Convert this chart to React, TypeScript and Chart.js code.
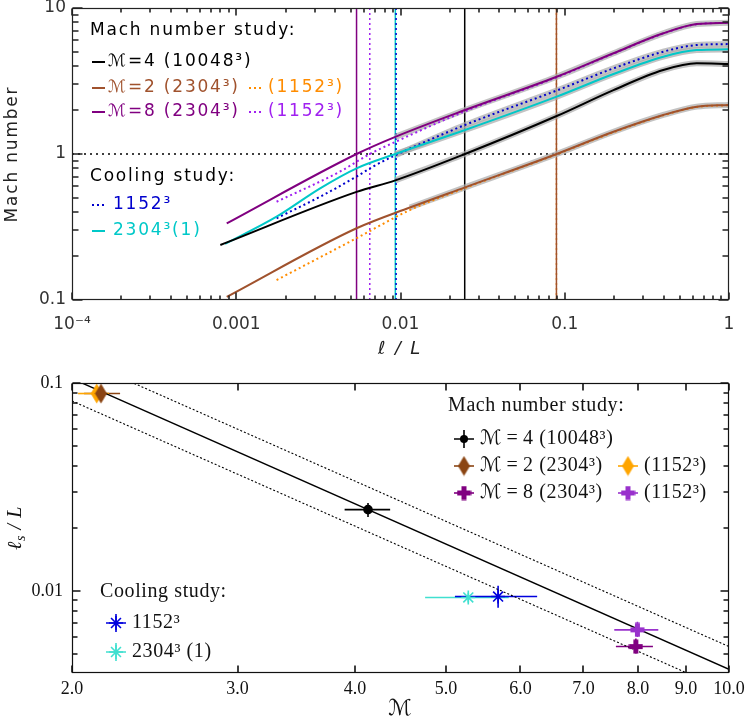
import { useEffect, useRef } from 'react';
import { Chart, registerables } from 'chart.js';

Chart.register(...registerables);

// ---- runs (same order everywhere) ----
// 0: M=4 10048^3, 1: M=2 2304^3, 2: M=2 1152^3, 3: M=8 2304^3, 4: M=8 1152^3, 5: cooling 1152^3, 6: cooling 2304^3 (1)
const topColors = ['#000000', '#a0522d', '#ff8c00', '#800080', '#a020f0', '#0000cd', '#00c8c8'];
const botColors = ['#000000', '#8b4513', '#ffa500', '#800080', '#9932cc', '#0000dd', '#40e0d0'];
const topDotted = [false, false, true, false, true, true, false];

// sonic scale and rms Mach number of each run
const sonicScale = [0.0246, 0.089, 0.089, 0.0054, 0.0065, 0.0094, 0.0093];
const sonicLo = [0.0227, 0.089, 0.089, 0.005, 0.006, 0.0083, 0.0088];
const sonicHi = [0.0265, 0.089, 0.089, 0.0059, 0.0071, 0.0106, 0.0098];
const machRms = [4.13, 2.147, 2.125, 7.96, 7.99, 5.68, 5.28];
const machLo = [3.9, 2.06, 2.03, 7.58, 7.55, 5.11, 4.75];
const machHi = [4.36, 2.25, 2.19, 8.3, 8.41, 6.25, 5.83];

// ---- top panel: Mach number vs l/L ----
const ellM4 = [0.0008, 0.0054, 0.0093, 0.0247, 0.0893, 0.198, 0.398, 0.636, 1.0];
const machM4 = [0.238, 0.55, 0.66, 1.0, 1.82, 2.74, 3.76, 4.18, 4.13];
const ellM2 = [0.000875, 0.0054, 0.0114, 0.0247, 0.0893, 0.198, 0.398, 0.636, 1.0];
const machM2 = [0.105, 0.31, 0.43, 0.591, 1.0, 1.42, 1.85, 2.11, 2.17];
const ellM2lo = [0.00176, 0.0054, 0.0114, 0.0247, 0.0893, 0.198, 0.398, 0.636, 1.0];
const machM2lo = [0.137, 0.265, 0.413, 0.585, 0.995, 1.41, 1.84, 2.1, 2.16];
const ellM8 = [0.000875, 0.0054, 0.0093, 0.0247, 0.0893, 0.198, 0.398, 0.636, 1.0];
const machM8 = [0.335, 1.0, 1.31, 2.0, 3.38, 4.9, 6.71, 7.76, 7.93];
const ellM8lo = [0.00176, 0.0043, 0.0065, 0.0093, 0.0247, 0.0893, 0.198, 0.398, 0.636, 1.0];
const machM8lo = [0.471, 0.76, 1.0, 1.21, 1.96, 3.35, 4.87, 6.68, 7.74, 7.92];
const ellC1152 = [0.00176, 0.00324, 0.0054, 0.0068, 0.0093, 0.0247, 0.0893, 0.198, 0.398, 0.636, 1.0];
const machC1152 = [0.363, 0.51, 0.7, 0.82, 0.98, 1.58, 2.72, 3.86, 5.02, 5.58, 5.66];
const ellC2304 = [0.000854, 0.00176, 0.00324, 0.0054, 0.0093, 0.0247, 0.0893, 0.198, 0.398, 0.636, 1.0];
const machC2304 = [0.242, 0.372, 0.582, 0.798, 1.0, 1.46, 2.47, 3.53, 4.64, 5.15, 5.21];

const curveEll = [ellM4, ellM2, ellM2lo, ellM8, ellM8lo, ellC1152, ellC2304];
const curveMach = [machM4, machM2, machM2lo, machM8, machM8lo, machC1152, machC2304];
const bandRuns = [0, 1, 3, 5, 6];

const topXTicks = [1e-4, 1e-3, 1e-2, 0.1, 1];
const topXLabels = ['10⁻⁴', '0.001', '0.01', '0.1', '1'];
const topYTicks = [0.1, 1, 10];
const topYLabels = ['0.1', '1', '10'];

// ---- bottom panel: l_s/L vs Mach ----
const fitMach = [2, 10];
const fitMid = [0.105, 0.0042];
const fitHi = [0.135, 0.0054];
const fitLo = [0.082, 0.00328];

const botXTicks = [2, 3, 4, 5, 6, 7, 8, 9, 10];
const botXLabels = ['2.0', '3.0', '4.0', '5.0', '6.0', '7.0', '8.0', '9.0', '10.0'];
const botYTicks = [0.01, 0.1];
const botYLabels = ['0.01', '0.1'];

const sans = '"DejaVu Sans", "Noto Sans", sans-serif';
const serif = '"Liberation Serif", "DejaVu Serif", "DejaVu Sans", serif';
const W = 747;
const TOP_H = 355;
const BOT_H = 364;

const pts = (xs: number[], ys: number[]) => xs.map((x, i) => ({ x, y: ys[i] }));

const minorTicks = (lo: number, hi: number) => {
    const out: number[] = [];
    for (let e = Math.floor(Math.log10(lo)); e < Math.ceil(Math.log10(hi)); e++) {
        for (let m = 2; m <= 9; m++) {
            const v = m * Math.pow(10, e);
            if (v > lo && v < hi) out.push(v);
        }
    }
    return out;
};

const setTicks = (majors: number[], minors: number[]) => (scale: any) => {
    scale.ticks = [
        ...majors.map((v) => ({ value: v, major: true })),
        ...minors.map((v) => ({ value: v, major: false })),
    ].sort((a, b) => a.value - b.value);
};

const labelFor = (majors: number[], labels: string[]) => (v: any) => {
    const i = majors.indexOf(Number(v));
    return i >= 0 ? labels[i] : '';
};

type TickSet = { major: number[]; minor: number[]; majorLen: number; minorLen: number };

// box with inward ticks on all four sides
const framePlugin = (xt: TickSet, yt: TickSet, color: string) => ({
    id: 'frameTicks',
    afterDraw(chart: any) {
        const ctx: CanvasRenderingContext2D = chart.ctx;
        const a = chart.chartArea;
        const L = Math.round(a.left) + 0.5;
        const R = Math.round(a.right) - 0.5;
        const T = Math.round(a.top) + 0.5;
        const B = Math.round(a.bottom) - 0.5;
        ctx.save();
        ctx.setLineDash([]);
        ctx.strokeStyle = color;
        ctx.lineWidth = 1.2;
        ctx.strokeRect(L, T, R - L, B - T);
        ctx.lineWidth = 1.6;
        ctx.beginPath();
        xt.major.concat(xt.minor).forEach((v, k) => {
            const len = k < xt.major.length ? xt.majorLen : xt.minorLen;
            const px = Math.round(chart.scales.x.getPixelForValue(v));
            ctx.moveTo(px, B); ctx.lineTo(px, B - len);
            ctx.moveTo(px, T); ctx.lineTo(px, T + len);
        });
        yt.major.concat(yt.minor).forEach((v, k) => {
            const len = k < yt.major.length ? yt.majorLen : yt.minorLen;
            const py = Math.round(chart.scales.y.getPixelForValue(v));
            ctx.moveTo(L, py); ctx.lineTo(L + len, py);
            ctx.moveTo(R, py); ctx.lineTo(R - len, py);
        });
        ctx.stroke();
        ctx.restore();
    },
});

const seg = (ctx: CanvasRenderingContext2D, x0: number, x1: number, y: number, color: string, dotted: boolean) => {
    ctx.save();
    ctx.strokeStyle = color;
    ctx.lineWidth = 2;
    if (dotted) ctx.setLineDash([2, 3]);
    ctx.beginPath();
    ctx.moveTo(x0, y);
    ctx.lineTo(x1, y);
    ctx.stroke();
    ctx.restore();
};

const topTextPlugin = {
    id: 'topText',
    afterDraw(chart: any) {
        const ctx: CanvasRenderingContext2D = chart.ctx;
        const txt = (s: string, x: number, y: number, c: string) => { ctx.fillStyle = c; ctx.fillText(s, x, y); };
        ctx.save();
        ctx.font = `17px ${sans}`;
        (ctx as any).letterSpacing = '1.8px';
        ctx.textBaseline = 'middle';
        ctx.textAlign = 'left';
        txt('Mach number study:', 90, 31, '#000');
        seg(ctx, 92, 105, 62, topColors[0], false);
        txt('ℳ=4 (10048³)', 108, 62, topColors[0]);
        seg(ctx, 92, 105, 88, topColors[1], false);
        txt('ℳ=2 (2304³)', 108, 88, topColors[1]);
        seg(ctx, 249, 264, 88, topColors[2], true);
        txt('(1152³)', 268, 88, topColors[2]);
        seg(ctx, 92, 105, 112, topColors[3], false);
        txt('ℳ=8 (2304³)', 108, 112, topColors[3]);
        seg(ctx, 249, 264, 112, topColors[4], true);
        txt('(1152³)', 268, 112, topColors[4]);
        txt('Cooling study:', 90, 177, '#000');
        seg(ctx, 92, 105, 205, topColors[5], true);
        txt('1152³', 113, 205, topColors[5]);
        seg(ctx, 92, 105, 231, topColors[6], false);
        txt('2304³(1)', 113, 231, topColors[6]);

        // axis titles
        ctx.fillStyle = '#222';
        ctx.textAlign = 'center';
        ctx.font = `italic 18px ${sans}`;
        ctx.fillText('ℓ / L', 400, 349);
        ctx.font = `17px ${sans}`;
        ctx.translate(13, 154);
        ctx.rotate(-Math.PI / 2);
        ctx.fillText('Mach number', 0, 0);
        ctx.restore();
    },
};

const makeDiamond = (color: string) => {
    const c = document.createElement('canvas');
    c.width = 13; c.height = 21;
    const g = c.getContext('2d')!;
    g.fillStyle = color;
    g.beginPath();
    g.moveTo(6.5, 0.5); g.lineTo(12.5, 10.5); g.lineTo(6.5, 20.5); g.lineTo(0.5, 10.5);
    g.closePath();
    g.fill();
    return c;
};

const makePlus = (color: string) => {
    const c = document.createElement('canvas');
    c.width = 15; c.height = 15;
    const g = c.getContext('2d')!;
    g.fillStyle = color;
    g.beginPath();
    g.moveTo(5, 0.5); g.lineTo(10, 0.5); g.lineTo(10, 5); g.lineTo(14.5, 5); g.lineTo(14.5, 10);
    g.lineTo(10, 10); g.lineTo(10, 14.5); g.lineTo(5, 14.5); g.lineTo(5, 10); g.lineTo(0.5, 10);
    g.lineTo(0.5, 5); g.lineTo(5, 5);
    g.closePath();
    g.fill();
    return c;
};

const drawStar = (ctx: CanvasRenderingContext2D, x: number, y: number, r: number, color: string) => {
    ctx.strokeStyle = color;
    ctx.lineWidth = 1.6;
    ctx.beginPath();
    for (let k = 0; k < 4; k++) {
        const a = (k * Math.PI) / 4;
        ctx.moveTo(x - r * Math.cos(a), y - r * Math.sin(a));
        ctx.lineTo(x + r * Math.cos(a), y + r * Math.sin(a));
    }
    ctx.stroke();
};

const errorBarPlugin = {
    id: 'errorBars',
    beforeDatasetsDraw(chart: any) {
        const { ctx, scales: { x, y } } = chart;
        ctx.save();
        ctx.lineWidth = 1.6;
        [0, 1, 2, 3, 4, 6, 5].forEach((i) => {
            const cx = x.getPixelForValue(machRms[i]);
            const cy = y.getPixelForValue(sonicScale[i]);
            ctx.strokeStyle = botColors[i];
            ctx.beginPath();
            ctx.moveTo(x.getPixelForValue(machLo[i]), cy);
            ctx.lineTo(x.getPixelForValue(machHi[i]), cy);
            ctx.moveTo(cx, y.getPixelForValue(sonicLo[i]));
            ctx.lineTo(cx, y.getPixelForValue(sonicHi[i]));
            ctx.stroke();
        });
        ctx.restore();
    },
};

export default function App() {
    const topRef = useRef<HTMLCanvasElement>(null);
    const botRef = useRef<HTMLCanvasElement>(null);

    useEffect(() => {
        const charts: Chart[] = [];
        const markers: any[] = [
            'circle',
            makeDiamond(botColors[1]),
            makeDiamond(botColors[2]),
            makePlus(botColors[3]),
            makePlus(botColors[4]),
            'star',
            'star',
        ];

        if (topRef.current) {
            const datasets: any[] = [];
            sonicScale.forEach((s, i) => {
                datasets.push({
                    data: [{ x: s, y: 0.1 }, { x: s, y: 10 }],
                    borderColor: topColors[i], borderWidth: 1.5,
                    borderDash: topDotted[i] ? [2, 3] : [],
                    showLine: true, pointRadius: 0, order: 50,
                });
            });
            datasets.push({
                data: [{ x: 1e-4, y: 1 }, { x: 1, y: 1 }],
                borderColor: '#000', borderWidth: 1.5, borderDash: [2, 4],
                showLine: true, pointRadius: 0, order: 49,
            });
            bandRuns.forEach((i) => {
                datasets.push({
                    data: pts(curveEll[i], curveMach[i]).filter((p) => p.x >= 0.009),
                    borderColor: 'rgba(170,170,170,0.7)', borderWidth: 6,
                    showLine: true, pointRadius: 0, cubicInterpolationMode: 'monotone', order: 40,
                });
            });
            curveEll.forEach((ell, i) => {
                datasets.push({
                    data: pts(ell, curveMach[i]),
                    borderColor: topColors[i], borderWidth: 2,
                    borderDash: topDotted[i] ? [2, 3] : [],
                    showLine: true, pointRadius: 0, cubicInterpolationMode: 'monotone',
                    order: topDotted[i] ? 30 : 20,
                });
            });

            const topXMinor = minorTicks(1e-4, 1);
            const topYMinor = minorTicks(0.1, 10);
            charts.push(new Chart(topRef.current, {
                type: 'scatter',
                data: { datasets },
                options: {
                    responsive: false,
                    animation: false,
                    events: [],
                    layout: { padding: { top: 8, right: 18, left: 0, bottom: 0 } },
                    plugins: { legend: { display: false }, tooltip: { enabled: false } },
                    scales: {
                        x: {
                            type: 'logarithmic', min: 1e-4, max: 1,
                            grid: { display: false, drawTicks: false }, border: { display: false },
                            afterBuildTicks: setTicks(topXTicks, topXMinor),
                            afterFit: (s: any) => { s.height = 55; s.paddingLeft = 0; s.paddingRight = 0; },
                            ticks: {
                                autoSkip: false, maxRotation: 0, padding: 14, color: '#333',
                                font: { family: sans, size: 17 }, callback: labelFor(topXTicks, topXLabels),
                            },
                        },
                        y: {
                            type: 'logarithmic', min: 0.1, max: 10,
                            grid: { display: false, drawTicks: false }, border: { display: false },
                            afterBuildTicks: setTicks(topYTicks, topYMinor),
                            afterFit: (s: any) => { s.width = 72; s.paddingTop = 0; s.paddingBottom = 0; },
                            ticks: {
                                autoSkip: false, padding: 6, color: '#333',
                                font: { family: sans, size: 17 }, callback: labelFor(topYTicks, topYLabels),
                            },
                        },
                    },
                } as any,
                plugins: [
                    topTextPlugin,
                    framePlugin(
                        { major: topXTicks, minor: topXMinor, majorLen: 7, minorLen: 4 },
                        { major: topYTicks, minor: topYMinor, majorLen: 10, minorLen: 6 },
                        '#222',
                    ),
                ],
            }));
        }

        if (botRef.current) {
            const datasets: any[] = [
                { data: pts(fitMach, fitMid), borderColor: '#000', borderWidth: 1.4, showLine: true, pointRadius: 0, order: 10 },
                { data: pts(fitMach, fitHi), borderColor: '#000', borderWidth: 1.1, borderDash: [2, 2], showLine: true, pointRadius: 0, order: 10 },
                { data: pts(fitMach, fitLo), borderColor: '#000', borderWidth: 1.1, borderDash: [2, 2], showLine: true, pointRadius: 0, order: 10 },
            ];
            const pointOrder = [1, 4, 5, 3, 2, 6, 7];
            machRms.forEach((m, i) => {
                datasets.push({
                    data: [{ x: m, y: sonicScale[i] }],
                    pointStyle: markers[i],
                    pointRadius: i === 0 ? 4 : 7,
                    pointBorderWidth: 1.6,
                    backgroundColor: botColors[i],
                    borderColor: botColors[i],
                    showLine: false,
                    order: pointOrder[i],
                });
            });

            const botTextPlugin = {
                id: 'botText',
                afterDraw(chart: any) {
                    const ctx: CanvasRenderingContext2D = chart.ctx;
                    ctx.save();
                    ctx.textBaseline = 'middle';
                    ctx.textAlign = 'left';
                    ctx.font = `20px ${serif}`;
                    (ctx as any).letterSpacing = '0.6px';
                    ctx.fillStyle = '#111';
                    ctx.fillText('Mach number study:', 448, 51);
                    ctx.fillText('Cooling study:', 100, 237);

                    const entry = (i: number, x: number, y: number, label: string) => {
                        ctx.save();
                        ctx.strokeStyle = botColors[i];
                        ctx.lineWidth = 1.6;
                        ctx.beginPath();
                        ctx.moveTo(x - 10, y); ctx.lineTo(x + 10, y);
                        if (i === 0 || i >= 5) { ctx.moveTo(x, y - 9); ctx.lineTo(x, y + 9); }
                        ctx.stroke();
                        const mk = markers[i];
                        if (mk === 'circle') {
                            ctx.fillStyle = botColors[i];
                            ctx.beginPath(); ctx.arc(x, y, 4, 0, Math.PI * 2); ctx.fill();
                        } else if (mk === 'star') {
                            drawStar(ctx, x, y, 7, botColors[i]);
                        } else {
                            ctx.drawImage(mk, x - mk.width / 2, y - mk.height / 2);
                        }
                        ctx.restore();
                        ctx.fillStyle = '#111';
                        ctx.fillText(label, x + 16, y);
                    };
                    entry(0, 464, 84, 'ℳ\u2009=\u20094 (10048³)');
                    entry(1, 464, 111, 'ℳ\u2009=\u20092 (2304³)');
                    entry(2, 628, 111, '(1152³)');
                    entry(3, 464, 138, 'ℳ\u2009=\u20098 (2304³)');
                    entry(4, 628, 138, '(1152³)');
                    entry(5, 116, 268, '1152³');
                    entry(6, 116, 297, '2304³ (1)');

                    // axis titles
                    ctx.textAlign = 'center';
                    ctx.font = `italic 22px ${serif}`;
                    ctx.fillText('ℳ', 400, 354);
                    ctx.translate(16, 173);
                    ctx.rotate(-Math.PI / 2);
                    ctx.textAlign = 'left';
                    ctx.font = `italic 20px ${serif}`;
                    const w1 = ctx.measureText('ℓ').width;
                    ctx.font = `italic 14px ${serif}`;
                    const w2 = ctx.measureText('s').width;
                    ctx.font = `italic 20px ${serif}`;
                    const w3 = ctx.measureText(' / L').width;
                    let x0 = -(w1 + w2 + w3) / 2;
                    ctx.fillText('ℓ', x0, 0);
                    x0 += w1;
                    ctx.font = `italic 14px ${serif}`;
                    ctx.fillText('s', x0, 5);
                    x0 += w2;
                    ctx.font = `italic 20px ${serif}`;
                    ctx.fillText(' / L', x0, 0);
                    ctx.restore();
                },
            };

            const botYMinor = minorTicks(0.00403, 0.1);
            charts.push(new Chart(botRef.current, {
                type: 'scatter',
                data: { datasets },
                options: {
                    responsive: false,
                    animation: false,
                    events: [],
                    layout: { padding: { top: 28, right: 18, left: 0, bottom: 0 } },
                    plugins: { legend: { display: false }, tooltip: { enabled: false } },
                    scales: {
                        x: {
                            type: 'logarithmic', min: 2, max: 10,
                            grid: { display: false, drawTicks: false }, border: { display: false },
                            afterBuildTicks: setTicks(botXTicks, []),
                            afterFit: (s: any) => { s.height = 46; s.paddingLeft = 0; s.paddingRight = 0; },
                            ticks: {
                                autoSkip: false, maxRotation: 0, padding: 5, color: '#111',
                                font: { family: serif, size: 18 }, callback: labelFor(botXTicks, botXLabels),
                            },
                        },
                        y: {
                            type: 'logarithmic', min: 0.00403, max: 0.1,
                            grid: { display: false, drawTicks: false }, border: { display: false },
                            afterBuildTicks: setTicks(botYTicks, botYMinor),
                            afterFit: (s: any) => { s.width = 72; s.paddingTop = 0; s.paddingBottom = 0; },
                            ticks: {
                                autoSkip: false, padding: 9, color: '#111',
                                font: { family: serif, size: 18 }, callback: labelFor(botYTicks, botYLabels),
                            },
                        },
                    },
                } as any,
                plugins: [
                    errorBarPlugin,
                    botTextPlugin,
                    framePlugin(
                        { major: botXTicks, minor: [], majorLen: 7, minorLen: 4 },
                        { major: botYTicks, minor: botYMinor, majorLen: 8, minorLen: 5 },
                        '#111',
                    ),
                ],
            }));
        }

        return () => charts.forEach((c) => c.destroy());
    }, []);

    return (
        <div style={{ position: 'absolute', left: 0, top: 0, width: W, height: TOP_H + BOT_H, background: '#fff' }}>
            <canvas ref={topRef} width={W} height={TOP_H} style={{ display: 'block' }} />
            <canvas ref={botRef} width={W} height={BOT_H} style={{ display: 'block' }} />
        </div>
    );
}
